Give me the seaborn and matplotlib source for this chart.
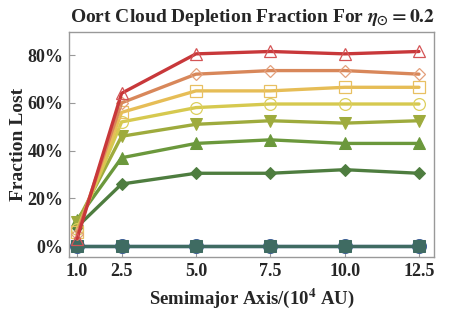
import seaborn as sns
import pandas as pd
import matplotlib.pyplot as plt
from matplotlib.ticker import FuncFormatter

# semimajor axis in 10^4 AU
a_vals = [1.0, 2.5, 5.0, 7.5, 10.0, 12.5]

# fraction lost (%) per run, top to bottom
red_tri = [3, 64, 80.5, 81.5, 80.5, 81.5]
orange_dia = [5, 60, 72, 73.5, 73.5, 72]
gold_sq = [6, 56, 65, 65, 66.5, 66.5]
yellow_circ = [7, 52, 58, 59.5, 59.5, 59.5]
lime_down = [10, 46, 51, 52.5, 51.5, 52.5]
green_up = [11, 37, 43, 44.5, 43, 43]
dkgreen_dia = [8, 26, 30.5, 30.5, 32, 30.5]
blue_circ = [0, 0, 0, 0, 0, 0]
teal_sq = [0, 0, 0, 0, 0, 0]

# name, values, line colour, marker colour, marker, filled, marker size
series = [
    ("blue_circ", blue_circ, "#3d5f96", "#3d5f96", "o", True, 10),
    ("teal_sq", teal_sq, "#3f6b62", "#3f6b62", "s", True, 8),
    ("dkgreen_dia", dkgreen_dia, "#4e7d3f", "#4e7d3f", "D", True, 6.5),
    ("green_up", green_up, "#6b983c", "#6b983c", "^", True, 8),
    ("lime_down", lime_down, "#9eab3d", "#9eab3d", "v", True, 8),
    ("yellow_circ", yellow_circ, "#d6c94f", "#dccf5e", "o", False, 8.5),
    ("gold_sq", gold_sq, "#e6bd56", "#e8c062", "s", False, 8),
    ("orange_dia", orange_dia, "#d8875a", "#e3a07c", "D", False, 6.5),
    ("red_tri", red_tri, "#c8383a", "#d45557", "^", False, 8.5),
]

sns.set_style("white")
plt.rcParams["font.family"] = ["Liberation Serif", "DejaVu Serif"]
plt.rcParams["font.weight"] = "bold"
plt.rcParams["mathtext.fontset"] = "stix"

fig = plt.figure(figsize=(4.63, 3.12), dpi=100)
ax = fig.add_axes([0.149, 0.176, 0.788, 0.721])

for name, vals, lc, mc, mk, filled, ms in series:
    df = pd.DataFrame({"a": a_vals, "f": vals})
    if filled:
        sns.lineplot(data=df, x="a", y="f", ax=ax, color=lc, lw=2.4,
                     marker=mk, markersize=ms, markerfacecolor=mc,
                     markeredgecolor=mc, zorder=3)
    else:
        sns.lineplot(data=df, x="a", y="f", ax=ax, color=lc, lw=2.4,
                     marker=mk, markersize=ms, markerfacecolor="none",
                     markeredgecolor=mc, markeredgewidth=0.9, zorder=3)

ax.set_xlim(0.73, 13.0)
ax.set_ylim(-4.6, 89.6)
ax.set_xticks(a_vals)
ax.set_xticklabels([f"{v:.1f}" for v in a_vals])
ax.set_yticks([0, 20, 40, 60, 80])
ax.yaxis.set_major_formatter(FuncFormatter(lambda v, p: f"{v:.0f}%"))
for s in ax.spines.values():
    s.set_color("#999999")
    s.set_linewidth(1)
ax.tick_params(direction="in", length=4, color="#999999", labelsize=13,
               bottom=True, left=True, pad=4)
for lab in ax.get_xticklabels() + ax.get_yticklabels():
    lab.set_fontweight("bold")

ax.set_xlabel("Semimajor Axis/(10$^{\\mathbf{4}}$ AU)", fontsize=13.5,
              fontweight="bold", labelpad=5)
ax.set_ylabel("Fraction Lost", fontsize=14, fontweight="bold", labelpad=0)
fig.text(0.545, 0.945, "Oort Cloud Depletion Fraction For $\\eta_{\\odot} = \\mathbf{0.2}$",
         ha="center", va="center", fontsize=14, fontweight="bold")

plt.savefig("out.png", dpi=100)
plt.close()
